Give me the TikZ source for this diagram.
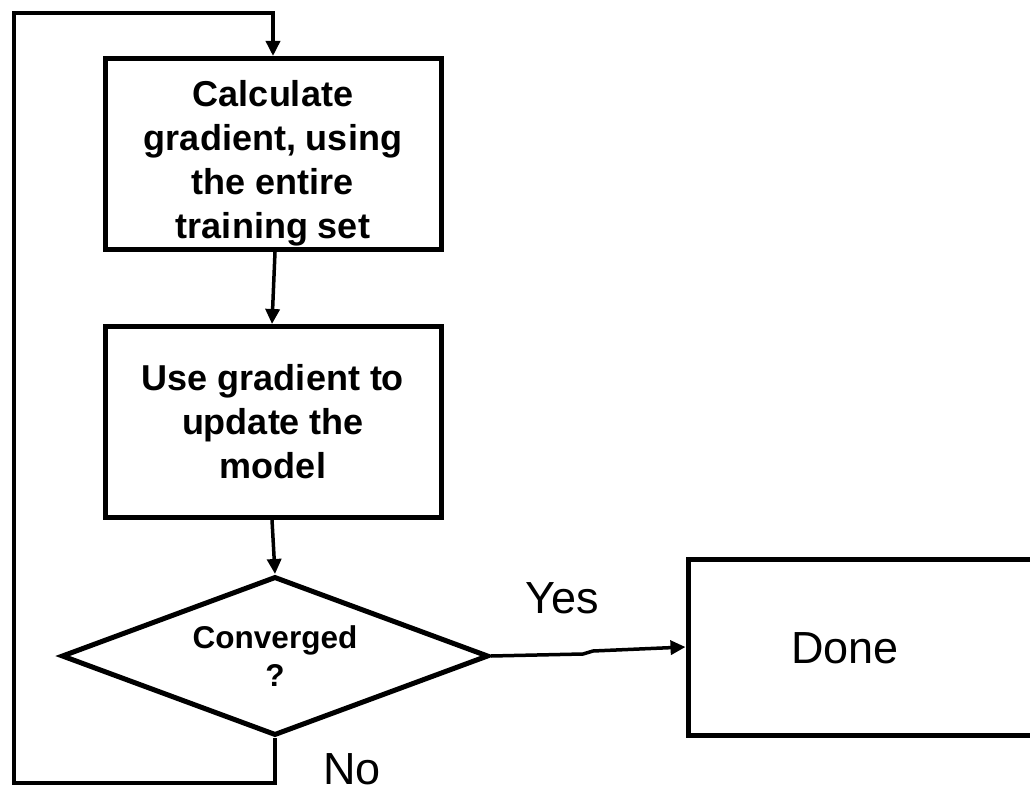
\documentclass[tikz,border=0pt]{standalone}
\usepackage{fontspec}
\setmainfont{Liberation Sans}
\usetikzlibrary{shapes.geometric,arrows.meta}
\tikzset{
  flowbox/.style={draw,line width=5pt,minimum width=336pt,minimum height=191pt,inner sep=0pt,align=center,
    font=\bfseries\fontsize{36}{44}\selectfont},
  decision/.style={draw,diamond,aspect=2.686,line width=5pt,minimum width=427pt,minimum height=159pt,inner sep=0pt,align=center,
    font=\bfseries\fontsize{31.5}{38}\selectfont},
  endbox/.style={draw,line width=5pt,minimum width=357pt,minimum height=176pt,inner sep=0pt},
  conn/.style={line width=3.5pt,line join=miter,-{Triangle[length=15pt,width=14pt]}},
  lbl/.style={font=\fontsize{45}{50}\selectfont,inner sep=0pt}
}
\begin{document}
\begin{tikzpicture}[x=1pt,y=-1pt]
\useasboundingbox (0,0) rectangle (1030,791);
\fill[white] (0,0) rectangle (1030,791);
\node[flowbox] (b1) at (273,154) {\rule{0pt}{45pt}Calculate\\gradient, using\\the entire\\training set};
\node[flowbox] (b2) at (273,422) {Use gradient to\\update the\\model};
\node[decision] (d) at (275,656) {Converged\\?};
\node[endbox] (done) at (866.5,647) {};
\node[lbl] (donetxt) at (845,648) {Done};
\node[lbl] (yes) at (562,598) {Yes};
\node[lbl] (no) at (352,769) {No};
\coordinate (k1) at (583,654);
\coordinate (k2) at (593,651);
\coordinate (l1) at (275,783);
\coordinate (l2) at (14,783);
\coordinate (l3) at (14,13);
\coordinate (l4) at (273,13);
\draw[conn] ([xshift=2pt]b1.south) -- ([xshift=-1pt]b2.north);
\draw[conn] ([xshift=-1pt]b2.south) -- (d.north);
\draw[conn] (d.east) -- (k1) -- (k2) -- (done.west);
\draw[conn] (d.south) -- (l1) -- (l2) -- (l3) -- (l4) -- (b1.north);
\end{tikzpicture}
\end{document}
